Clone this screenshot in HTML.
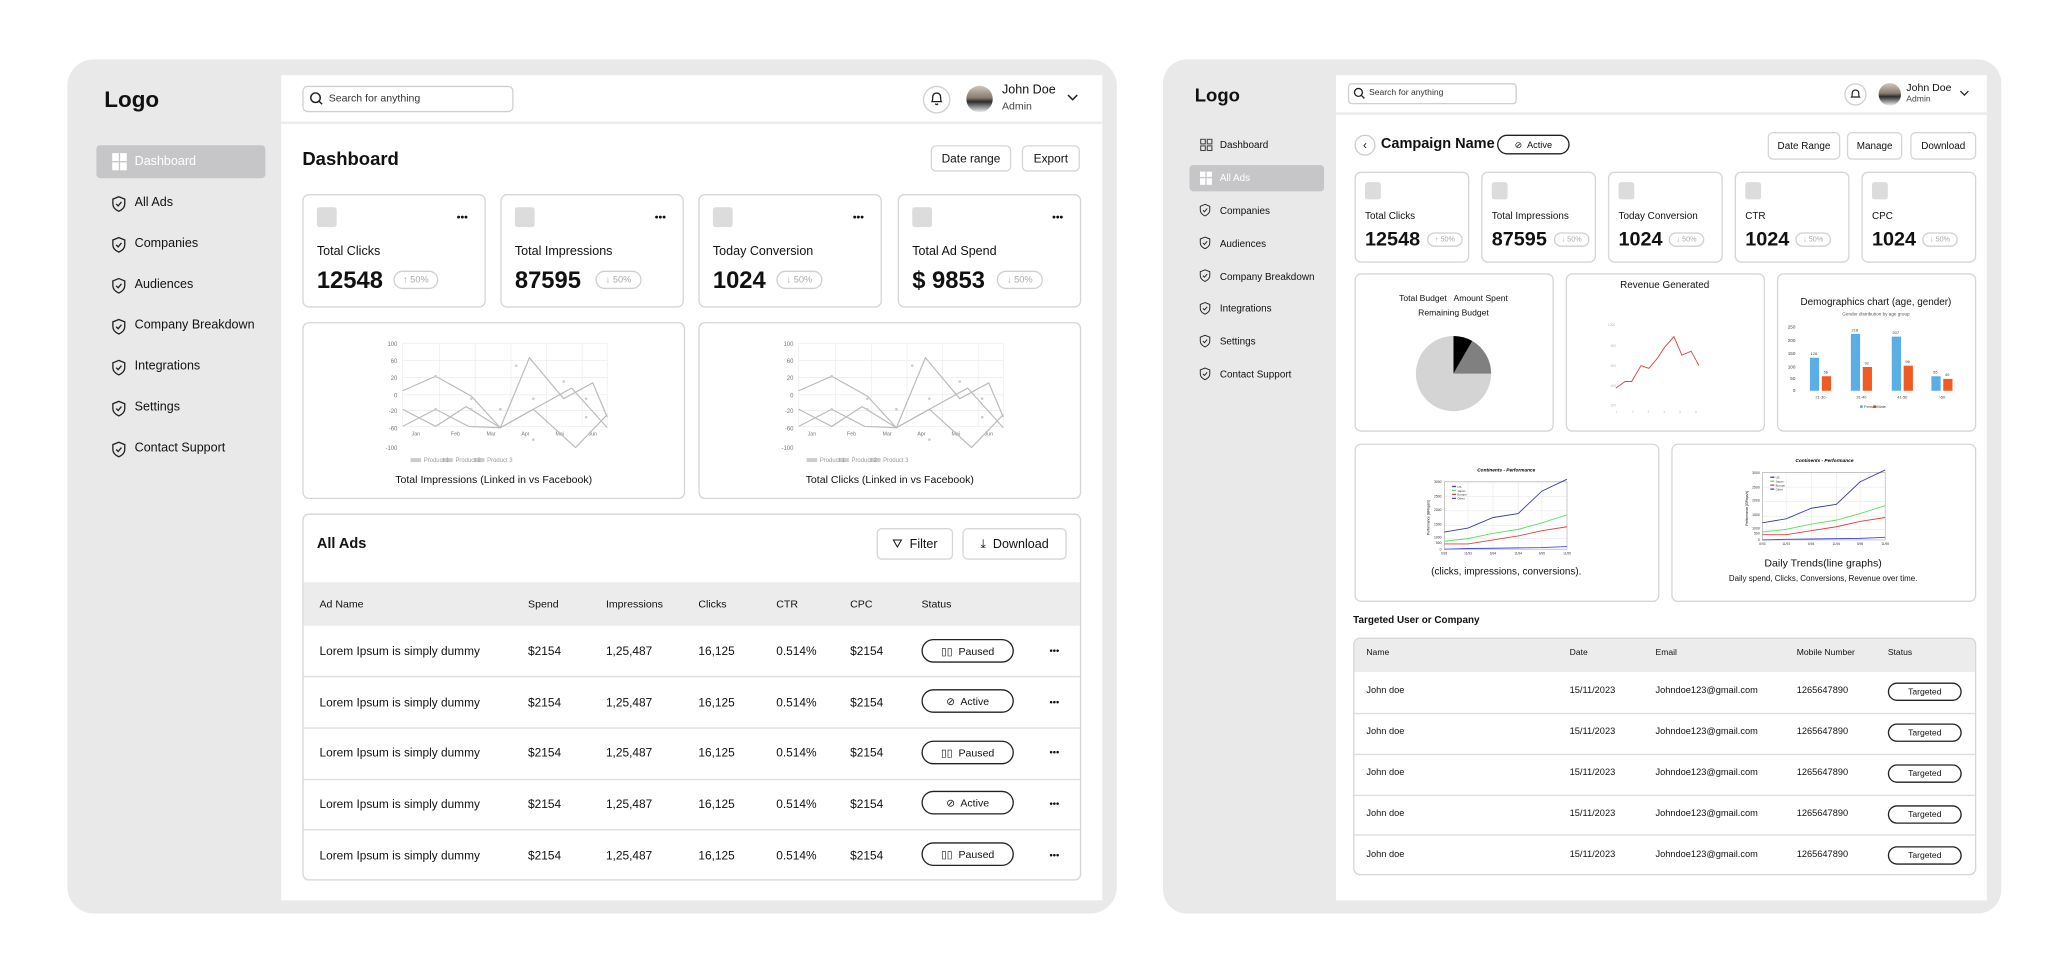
<!DOCTYPE html>
<html><head><meta charset="utf-8">
<style>
*{margin:0;padding:0;box-sizing:border-box}
html,body{width:2070px;height:975px;background:#fff;overflow:hidden;font-family:"Liberation Sans",Arial,sans-serif;color:#111}
#s{position:absolute;left:0;top:0;width:1568px;height:739px;transform:scale(1.32015);transform-origin:0 0}
.a{position:absolute}
.card{position:absolute;background:#fff;border:1px solid #d6d6d6;border-radius:5px}
.btn{position:absolute;background:#fff;border:1px solid #d6d6d6;border-radius:4px;font-size:9px;display:flex;align-items:center;justify-content:center;font-weight:500}
.t{position:absolute;white-space:nowrap;line-height:1}
.pill{position:absolute;border:1px solid #d0d0d0;border-radius:8px;color:#aaa;font-size:7px;display:flex;align-items:center;justify-content:center}
.ic{position:absolute;background:#dcdcdc;border-radius:2px}
.sp{position:absolute;border:1px solid #222;border-radius:10px;font-size:8px;display:flex;align-items:center;justify-content:center;background:#fff}
</style></head><body><div id="s">

<!-- LEFT PANEL -->
<div class="a" style="left:51px;top:45px;width:795px;height:647px;background:#e9e9ea;border-radius:20px"></div>
<div class="a" style="left:213px;top:57px;width:622px;height:625px;background:#fff"></div>
<div class="a" style="left:213px;top:92px;width:622px;height:2px;background:#ececec"></div>
<div class="t" style="left:79px;top:67px;font-size:17px;font-weight:bold">Logo</div>
<div class="a" style="left:229px;top:65px;width:160px;height:20px;border:1px solid #d0d0d0;border-radius:4px"></div>
<svg class="a" style="left:234px;top:69px" width="12" height="12"><circle cx="5" cy="5" r="3.6" fill="none" stroke="#222" stroke-width="1.1"/><line x1="7.6" y1="7.6" x2="10" y2="10" stroke="#222" stroke-width="1.1"/></svg>
<div class="t" style="left:249px;top:71px;font-size:8px;color:#333">Search for anything</div>
<div class="a" style="left:699px;top:65px;width:21px;height:21px;border:1px solid #d0d0d0;border-radius:50%"></div>
<svg class="a" style="left:704px;top:69px" width="11" height="12"><path d="M2 8 Q2.5 7 2.5 5 Q2.5 1.5 5.5 1.5 Q8.5 1.5 8.5 5 Q8.5 7 9 8 Z" fill="none" stroke="#222" stroke-width="1"/><path d="M4.5 9.5 Q5.5 11 6.5 9.5" fill="none" stroke="#222"/></svg>
<div class="a" style="left:732px;top:65px;width:20px;height:20px;border-radius:50%;background:linear-gradient(#cfc7c0 0,#8a7c70 45%,#2c2c2c 60%,#efefef 100%)"></div>
<div class="t" style="left:759px;top:64px;font-size:9.5px;font-weight:500">John Doe</div>
<div class="t" style="left:759px;top:77px;font-size:8px;color:#444">Admin</div>
<svg class="a" style="left:808px;top:71px" width="9" height="6"><path d="M1 1 L4.5 4.5 L8 1" fill="none" stroke="#222" stroke-width="1.1"/></svg>

<div class="a" style="left:73px;top:110px;width:128px;height:25px;background:#c6c6c8;border-radius:3px"></div>
<div class="a" style="left:85px;top:116px;width:5px;height:6px;background:#fff"></div><div class="a" style="left:91px;top:116px;width:5px;height:6px;background:#fff"></div><div class="a" style="left:85px;top:123px;width:5px;height:6px;background:#fff"></div><div class="a" style="left:91px;top:123px;width:5px;height:6px;background:#fff"></div>
<div class="t" style="left:102px;top:118px;font-size:9.5px;color:#fff">Dashboard</div>

<svg class="a" style="left:84px;top:148px" width="12" height="250">
<defs><path id="sh" d="M6 1 L10.5 2.8 V6.5 Q10.5 10 6 12 Q1.5 10 1.5 6.5 V2.8 Z M4 6.5 L5.5 8 L8 5"/></defs>
<g fill="none" stroke="#222" stroke-width="1">
<use href="#sh" y="0"/><use href="#sh" y="31"/><use href="#sh" y="62"/><use href="#sh" y="93"/><use href="#sh" y="124"/><use href="#sh" y="155"/><use href="#sh" y="186"/></g></svg>
<div style="font-size:9.5px">
<div class="t" style="left:102px;top:149px">All Ads</div>
<div class="t" style="left:102px;top:180px">Companies</div>
<div class="t" style="left:102px;top:211px">Audiences</div>
<div class="t" style="left:102px;top:242px">Company Breakdown</div>
<div class="t" style="left:102px;top:273px">Integrations</div>
<div class="t" style="left:102px;top:304px">Settings</div>
<div class="t" style="left:102px;top:335px">Contact Support</div>
</div>

<div class="t" style="left:229px;top:113px;font-size:14px;font-weight:bold">Dashboard</div>
<div class="btn" style="left:705px;top:110px;width:61px;height:20px">Date range</div>
<div class="btn" style="left:774px;top:110px;width:44px;height:20px">Export</div>

<div class="card" style="left:229px;top:147px;width:139px;height:86px"></div>
<div class="card" style="left:379px;top:147px;width:139px;height:86px"></div>
<div class="card" style="left:529px;top:147px;width:139px;height:86px"></div>
<div class="card" style="left:680px;top:147px;width:139px;height:86px"></div>
<div class="ic" style="left:240px;top:157px;width:15px;height:15px"></div>
<div class="ic" style="left:390px;top:157px;width:15px;height:15px"></div>
<div class="ic" style="left:540px;top:157px;width:15px;height:15px"></div>
<div class="ic" style="left:691px;top:157px;width:15px;height:15px"></div>
<div style="font-size:8px;font-weight:bold">
<div class="t" style="left:346px;top:161px">•••</div>
<div class="t" style="left:496px;top:161px">•••</div>
<div class="t" style="left:646px;top:161px">•••</div>
<div class="t" style="left:797px;top:161px">•••</div></div>
<div style="font-size:9.5px">
<div class="t" style="left:240px;top:186px">Total Clicks</div>
<div class="t" style="left:390px;top:186px">Total Impressions</div>
<div class="t" style="left:540px;top:186px">Today Conversion</div>
<div class="t" style="left:691px;top:186px">Total Ad Spend</div></div>
<div style="font-size:18px;font-weight:bold">
<div class="t" style="left:240px;top:203px">12548</div>
<div class="t" style="left:390px;top:203px">87595</div>
<div class="t" style="left:540px;top:203px">1024</div>
<div class="t" style="left:691px;top:203px">$ 9853</div></div>
<div class="pill" style="left:298px;top:205px;width:34px;height:14px">↑ 50%</div>
<div class="pill" style="left:451px;top:205px;width:35px;height:14px">↓ 50%</div>
<div class="pill" style="left:588px;top:205px;width:35px;height:14px">↓ 50%</div>
<div class="pill" style="left:755px;top:205px;width:35px;height:14px">↓ 50%</div>

<div class="card" style="left:229px;top:244px;width:290px;height:134px"></div>
<div class="card" style="left:529px;top:244px;width:290px;height:134px"></div>
<svg class="a" style="left:229px;top:244px" width="290" height="134"><g id="lc">
<g stroke="#eee" stroke-width="0.6"><line x1="76" y1="16" x2="231" y2="16"/><line x1="76" y1="29" x2="231" y2="29"/><line x1="76" y1="42" x2="231" y2="42"/><line x1="76" y1="55" x2="231" y2="55"/><line x1="76" y1="67" x2="231" y2="67"/><line x1="76" y1="79" x2="231" y2="79"/><line x1="76" y1="16" x2="76" y2="79"/><line x1="104" y1="16" x2="104" y2="79"/><line x1="131" y1="16" x2="131" y2="79"/><line x1="158" y1="16" x2="158" y2="79"/><line x1="185" y1="16" x2="185" y2="79"/><line x1="212" y1="16" x2="212" y2="79"/><line x1="231" y1="16" x2="231" y2="79"/></g>
<g font-size="4.5" fill="#777" text-anchor="end"><text x="72" y="18">100</text><text x="72" y="31">60</text><text x="72" y="44">20</text><text x="72" y="57">0</text><text x="72" y="69">-20</text><text x="72" y="82">-60</text><text x="72" y="97">-100</text></g>
<g font-size="4" fill="#777" text-anchor="middle"><text x="86" y="86">Jan</text><text x="116" y="86">Feb</text><text x="143" y="86">Mar</text><text x="169" y="86">Apr</text><text x="195" y="86">Mai</text><text x="220" y="86">Jun</text></g>
<g fill="none" stroke="#bbb" stroke-width="0.9"><polyline points="76,52 101,41 128,56 150,80 175,66 207,95 231,70"/><polyline points="76,66 101,79 124,64 150,80 175,66 204,50 231,80"/><polyline points="76,79 101,66 126,79 150,80 172,27 198,58 220,46 231,72"/></g>
<g fill="#ccc"><circle cx="101" cy="41" r="1"/><circle cx="128" cy="58" r="1"/><circle cx="162" cy="33" r="1"/><circle cx="198" cy="45" r="1"/><circle cx="175" cy="58" r="1"/><circle cx="101" cy="66" r="1"/><circle cx="128" cy="66" r="1"/><circle cx="150" cy="66" r="1"/><circle cx="175" cy="89" r="1"/><circle cx="215" cy="58" r="1"/><circle cx="215" cy="72" r="1"/></g>
<g fill="#ccc"><rect x="82" y="103" width="8" height="3"/><rect x="106" y="103" width="8" height="3"/><rect x="130" y="103" width="8" height="3"/></g>
<g font-size="4.5" fill="#999"><text x="92" y="106">Product 1</text><text x="116" y="106">Product 2</text><text x="140" y="106">Product 3</text></g>
</g>
<text x="145" y="122" font-size="8" fill="#111" text-anchor="middle">Total Impressions (Linked in vs Facebook)</text></svg>
<svg class="a" style="left:529px;top:244px" width="290" height="134"><use href="#lc"/>
<text x="145" y="122" font-size="8" fill="#111" text-anchor="middle">Total Clicks (Linked in vs Facebook)</text></svg>

<div class="card" style="left:229px;top:389px;width:590px;height:278px;overflow:hidden">
<div class="a" style="left:0;top:51px;width:590px;height:33px;background:#ececec"></div>
<div class="a" style="left:0;top:122px;width:590px;height:1px;background:#ddd"></div>
<div class="a" style="left:0;top:161px;width:590px;height:1px;background:#ddd"></div>
<div class="a" style="left:0;top:200px;width:590px;height:1px;background:#ddd"></div>
<div class="a" style="left:0;top:238px;width:590px;height:1px;background:#ddd"></div>
</div>
<div class="t" style="left:240px;top:407px;font-size:11px;font-weight:bold">All Ads</div>
<div class="btn" style="left:664px;top:400px;width:58px;height:24px;font-size:9.5px">⛛&nbsp; Filter</div>
<div class="btn" style="left:729px;top:400px;width:79px;height:24px;font-size:9.5px">⤓&nbsp; Download</div>
<div style="font-size:8px">
<div class="t" style="left:242px;top:454px">Ad Name</div><div class="t" style="left:400px;top:454px">Spend</div><div class="t" style="left:459px;top:454px">Impressions</div><div class="t" style="left:529px;top:454px">Clicks</div><div class="t" style="left:588px;top:454px">CTR</div><div class="t" style="left:644px;top:454px">CPC</div><div class="t" style="left:698px;top:454px">Status</div>
</div>
<div style="font-size:9px">
<div class="t" style="left:242px;top:489px">Lorem Ipsum is simply dummy</div><div class="t" style="left:400px;top:489px">$2154</div><div class="t" style="left:459px;top:489px">1,25,487</div><div class="t" style="left:529px;top:489px">16,125</div><div class="t" style="left:588px;top:489px">0.514%</div><div class="t" style="left:644px;top:489px">$2154</div>
<div class="t" style="left:242px;top:528px">Lorem Ipsum is simply dummy</div><div class="t" style="left:400px;top:528px">$2154</div><div class="t" style="left:459px;top:528px">1,25,487</div><div class="t" style="left:529px;top:528px">16,125</div><div class="t" style="left:588px;top:528px">0.514%</div><div class="t" style="left:644px;top:528px">$2154</div>
<div class="t" style="left:242px;top:566px">Lorem Ipsum is simply dummy</div><div class="t" style="left:400px;top:566px">$2154</div><div class="t" style="left:459px;top:566px">1,25,487</div><div class="t" style="left:529px;top:566px">16,125</div><div class="t" style="left:588px;top:566px">0.514%</div><div class="t" style="left:644px;top:566px">$2154</div>
<div class="t" style="left:242px;top:605px">Lorem Ipsum is simply dummy</div><div class="t" style="left:400px;top:605px">$2154</div><div class="t" style="left:459px;top:605px">1,25,487</div><div class="t" style="left:529px;top:605px">16,125</div><div class="t" style="left:588px;top:605px">0.514%</div><div class="t" style="left:644px;top:605px">$2154</div>
<div class="t" style="left:242px;top:644px">Lorem Ipsum is simply dummy</div><div class="t" style="left:400px;top:644px">$2154</div><div class="t" style="left:459px;top:644px">1,25,487</div><div class="t" style="left:529px;top:644px">16,125</div><div class="t" style="left:588px;top:644px">0.514%</div><div class="t" style="left:644px;top:644px">$2154</div>
</div>
<div class="sp" style="left:698px;top:484px;width:70px;height:18px">▯▯&nbsp; Paused</div>
<div class="sp" style="left:698px;top:522px;width:70px;height:18px">⊘&nbsp; Active</div>
<div class="sp" style="left:698px;top:561px;width:70px;height:18px">▯▯&nbsp; Paused</div>
<div class="sp" style="left:698px;top:599px;width:70px;height:18px">⊘&nbsp; Active</div>
<div class="sp" style="left:698px;top:638px;width:70px;height:18px">▯▯&nbsp; Paused</div>
<div style="font-size:7px;font-weight:bold">
<div class="t" style="left:795px;top:490px">•••</div><div class="t" style="left:795px;top:529px">•••</div><div class="t" style="left:795px;top:567px">•••</div><div class="t" style="left:795px;top:606px">•••</div><div class="t" style="left:795px;top:645px">•••</div>
</div>

<!-- RIGHT PANEL -->
<div class="a" style="left:881px;top:45px;width:635px;height:647px;background:#e9e9ea;border-radius:18px"></div>
<div class="a" style="left:1012px;top:57px;width:493px;height:625px;background:#fff"></div>
<div class="a" style="left:1012px;top:85px;width:493px;height:2px;background:#ececec"></div>
<div class="t" style="left:905px;top:65px;font-size:14px;font-weight:bold">Logo</div>
<div class="a" style="left:1021px;top:63px;width:128px;height:16px;border:1px solid #d0d0d0;border-radius:3px"></div>
<svg class="a" style="left:1025px;top:66px" width="10" height="10"><circle cx="4" cy="4" r="3" fill="none" stroke="#222"/><line x1="6.2" y1="6.2" x2="8.5" y2="8.5" stroke="#222"/></svg>
<div class="t" style="left:1037px;top:68px;font-size:6.5px;color:#333">Search for anything</div>
<div class="a" style="left:1397px;top:63px;width:17px;height:17px;border:1px solid #d0d0d0;border-radius:50%"></div>
<svg class="a" style="left:1401px;top:67px" width="9" height="10"><path d="M1.5 6.5 Q2 6 2 4 Q2 1.2 4.5 1.2 Q7 1.2 7 4 Q7 6 7.5 6.5 Z" fill="none" stroke="#222" stroke-width="0.9"/></svg>
<div class="a" style="left:1423px;top:63px;width:17px;height:17px;border-radius:50%;background:linear-gradient(#cfc7c0 0,#8a7c70 45%,#2c2c2c 60%,#efefef 100%)"></div>
<div class="t" style="left:1444px;top:63px;font-size:8px;font-weight:500">John Doe</div>
<div class="t" style="left:1444px;top:73px;font-size:6.5px;color:#444">Admin</div>
<svg class="a" style="left:1484px;top:68px" width="8" height="5"><path d="M1 1 L4 4 L7 1" fill="none" stroke="#222"/></svg>

<svg class="a" style="left:909px;top:105px" width="10" height="10"><g fill="none" stroke="#444" stroke-width="0.8"><rect x="0.5" y="0.5" width="3.5" height="3.5"/><rect x="5.5" y="0.5" width="3.5" height="3.5"/><rect x="0.5" y="5.5" width="3.5" height="3.5"/><rect x="5.5" y="5.5" width="3.5" height="3.5"/></g></svg>
<div class="t" style="left:924px;top:106px;font-size:7.5px">Dashboard</div>
<div class="a" style="left:901px;top:125px;width:102px;height:20px;background:#c6c6c8;border-radius:3px"></div>
<div class="a" style="left:909px;top:130px;width:4px;height:4px;background:#fff"></div><div class="a" style="left:914px;top:130px;width:4px;height:4px;background:#fff"></div><div class="a" style="left:909px;top:135px;width:4px;height:5px;background:#fff"></div><div class="a" style="left:914px;top:135px;width:4px;height:5px;background:#fff"></div>
<div class="t" style="left:924px;top:131px;font-size:7.5px;color:#fff">All Ads</div>
<svg class="a" style="left:908px;top:154px" width="10" height="140"><g fill="none" stroke="#222" stroke-width="0.9" transform="scale(0.8)"><use href="#sh" y="0"/><use href="#sh" y="31"/><use href="#sh" y="62"/><use href="#sh" y="93"/><use href="#sh" y="124"/><use href="#sh" y="155"/></g></svg>
<div style="font-size:7.5px">
<div class="t" style="left:924px;top:156px">Companies</div><div class="t" style="left:924px;top:181px">Audiences</div><div class="t" style="left:924px;top:206px">Company Breakdown</div><div class="t" style="left:924px;top:230px">Integrations</div><div class="t" style="left:924px;top:255px">Settings</div><div class="t" style="left:924px;top:280px">Contact Support</div>
</div>

<div class="a" style="left:1026px;top:102px;width:16px;height:16px;border:1px solid #ccc;border-radius:50%;font-size:9px;text-align:center;line-height:14px">‹</div>
<div class="t" style="left:1046px;top:104px;font-size:11px;font-weight:bold">Campaign Name</div>
<div class="sp" style="left:1134px;top:102px;width:55px;height:15px;font-size:7px">⊘&nbsp; Active</div>
<div class="btn" style="left:1339px;top:100px;width:55px;height:21px;font-size:7.5px">Date Range</div>
<div class="btn" style="left:1399px;top:100px;width:42px;height:21px;font-size:7.5px">Manage</div>
<div class="btn" style="left:1447px;top:100px;width:50px;height:21px;font-size:7.5px">Download</div>

<div class="card" style="left:1026px;top:130px;width:87px;height:69px"></div>
<div class="card" style="left:1122px;top:130px;width:87px;height:69px"></div>
<div class="card" style="left:1218px;top:130px;width:87px;height:69px"></div>
<div class="card" style="left:1314px;top:130px;width:87px;height:69px"></div>
<div class="card" style="left:1410px;top:130px;width:87px;height:69px"></div>
<div class="ic" style="left:1034px;top:138px;width:12px;height:13px"></div>
<div class="ic" style="left:1130px;top:138px;width:12px;height:13px"></div>
<div class="ic" style="left:1226px;top:138px;width:12px;height:13px"></div>
<div class="ic" style="left:1322px;top:138px;width:12px;height:13px"></div>
<div class="ic" style="left:1418px;top:138px;width:12px;height:13px"></div>
<div style="font-size:7.5px">
<div class="t" style="left:1034px;top:160px">Total Clicks</div>
<div class="t" style="left:1130px;top:160px">Total Impressions</div>
<div class="t" style="left:1226px;top:160px">Today Conversion</div>
<div class="t" style="left:1322px;top:160px">CTR</div>
<div class="t" style="left:1418px;top:160px">CPC</div></div>
<div style="font-size:15px;font-weight:bold">
<div class="t" style="left:1034px;top:174px">12548</div>
<div class="t" style="left:1130px;top:174px">87595</div>
<div class="t" style="left:1226px;top:174px">1024</div>
<div class="t" style="left:1322px;top:174px">1024</div>
<div class="t" style="left:1418px;top:174px">1024</div></div>
<div class="pill" style="left:1081px;top:176px;width:27px;height:11px;font-size:5.5px">↑ 50%</div>
<div class="pill" style="left:1177px;top:176px;width:27px;height:11px;font-size:5.5px">↓ 50%</div>
<div class="pill" style="left:1264px;top:176px;width:27px;height:11px;font-size:5.5px">↓ 50%</div>
<div class="pill" style="left:1360px;top:176px;width:27px;height:11px;font-size:5.5px">↓ 50%</div>
<div class="pill" style="left:1456px;top:176px;width:27px;height:11px;font-size:5.5px">↓ 50%</div>

<!-- charts row 1 -->
<div class="card" style="left:1026px;top:207px;width:151px;height:120px"></div>
<div class="card" style="left:1186px;top:207px;width:151px;height:120px"></div>
<div class="card" style="left:1346px;top:207px;width:151px;height:120px"></div>
<div class="t" style="left:1101px;top:224px;font-size:6.5px;transform:translateX(-50%)">Total Budget &nbsp; Amount Spent</div>
<div class="t" style="left:1101px;top:235px;font-size:6.5px;transform:translateX(-50%)">Remaining Budget</div>
<svg class="a" style="left:1071px;top:253px" width="60" height="60">
<circle cx="30" cy="30" r="28.5" fill="#d4d4d4"/>
<path d="M30 30 L30 1.5 A28.5 28.5 0 0 1 44.25 5.3 Z" fill="#000"/>
<path d="M30 30 L44.25 5.3 A28.5 28.5 0 0 1 58.5 30 Z" fill="#808080"/>
</svg>
<div class="t" style="left:1261px;top:212px;font-size:7.5px;transform:translateX(-50%)">Revenue Generated</div>
<svg class="a" style="left:1186px;top:207px" width="151" height="120">
<g font-size="2.5" fill="#bbb"><text x="32" y="40">1000</text><text x="34" y="56">800</text><text x="34" y="71">600</text><text x="34" y="86">400</text><text x="34" y="101">200</text></g>
<polyline fill="none" stroke="#e0473c" stroke-width="0.7" points="38,87 45,82 50,82 57,70 63,72 69,65 75,56 82,48 88,62 95,59 101,70"/>
<g font-size="2.5" fill="#bbb"><text x="38" y="106">1</text><text x="50" y="106">2</text><text x="62" y="106">3</text><text x="74" y="106">4</text><text x="86" y="106">5</text><text x="98" y="106">6</text></g>
</svg>
<div class="t" style="left:1421px;top:225px;font-size:7.5px;transform:translateX(-50%)">Demographics chart (age, gender)</div>
<div class="t" style="left:1421px;top:237px;font-size:3.5px;color:#555;transform:translateX(-50%)">Gender distribution by age group</div>
<svg class="a" style="left:1346px;top:207px" width="151" height="120">
<g font-size="3.5" fill="#444" text-anchor="end"><text x="14" y="42">250</text><text x="14" y="52">200</text><text x="14" y="62">150</text><text x="14" y="72">100</text><text x="14" y="81">50</text><text x="14" y="90">0</text></g>
<g fill="#5aaee6"><rect x="25" y="64" width="7" height="25"/><rect x="56" y="46" width="7" height="43"/><rect x="87" y="48" width="7" height="41"/><rect x="117" y="78" width="7" height="11"/></g>
<g fill="#f05a24"><rect x="34" y="78" width="7" height="11"/><rect x="65" y="71" width="7" height="18"/><rect x="96" y="70" width="7" height="19"/><rect x="126" y="80" width="7" height="9"/></g>
<g font-size="3" fill="#444" text-anchor="middle"><text x="28" y="62">128</text><text x="59" y="44">218</text><text x="90" y="46">207</text><text x="120" y="76">55</text><text x="37" y="76">56</text><text x="68" y="69">92</text><text x="99" y="68">96</text><text x="129" y="78">49</text>
<text x="33" y="95">21-30</text><text x="64" y="95">31-40</text><text x="95" y="95">41-50</text><text x="125" y="95">&gt;50</text></g>
<rect x="63" y="100" width="2" height="2" fill="#5aaee6"/><rect x="73" y="100" width="2" height="2" fill="#f05a24"/>
<g font-size="3" fill="#444"><text x="66" y="102">Female</text><text x="76" y="102">Male</text></g>
</svg>

<!-- charts row 2 -->
<div class="card" style="left:1026px;top:336px;width:231px;height:120px"></div>
<div class="card" style="left:1266px;top:336px;width:231px;height:120px"></div>
<svg class="a" style="left:1070px;top:352px" width="140" height="70"><g id="cp">
<text x="71" y="5" font-size="3.6" font-weight="bold" font-style="italic" text-anchor="middle">Continents - Performance</text>
<g stroke="#e4e4e4" stroke-width="0.4"><line x1="24" y1="13" x2="117" y2="13"/><line x1="24" y1="24" x2="117" y2="24"/><line x1="24" y1="35" x2="117" y2="35"/><line x1="24" y1="46" x2="117" y2="46"/><line x1="24" y1="56" x2="117" y2="56"/><line x1="42" y1="13" x2="42" y2="64"/><line x1="61" y1="13" x2="61" y2="64"/><line x1="80" y1="13" x2="80" y2="64"/><line x1="98" y1="13" x2="98" y2="64"/></g>
<rect x="24" y="13" width="93" height="51" fill="none" stroke="#999" stroke-width="0.4"/>
<g font-size="2.6" fill="#333" text-anchor="end"><text x="22" y="14">3000</text><text x="22" y="25">2500</text><text x="22" y="35">2000</text><text x="22" y="46">1500</text><text x="22" y="56">1000</text><text x="22" y="60">500</text><text x="22" y="65">0</text></g>
<text x="13" y="40" font-size="2.5" transform="rotate(-90 13 40)" text-anchor="middle">Performance [GFlops/s]</text>
<g fill="none" stroke-width="0.7"><polyline stroke="#3b3bb0" points="24,51 42,48 61,40 80,37 98,20 117,11"/><polyline stroke="#5ee05e" points="24,58 42,56 61,52 80,49 98,44 117,38"/><polyline stroke="#e04040" points="24,60 42,60 61,57 80,54 98,50 117,47"/><polyline stroke="#4a4ae0" points="24,64 42,63.5 61,63.3 80,63 98,62.8 117,62"/></g>
<g font-size="2.2" fill="#333"><rect x="30" y="16" width="3" height="1" fill="#3b3bb0"/><text x="34" y="17.5">US</text><rect x="30" y="19" width="3" height="1" fill="#5ee05e"/><text x="34" y="20.5">Japan</text><rect x="30" y="22" width="3" height="1" fill="#e04040"/><text x="34" y="23.5">Europe</text><rect x="30" y="25" width="3" height="1" fill="#4a4ae0"/><text x="34" y="26.5">Other</text></g>
<g font-size="2.4" fill="#333" text-anchor="middle"><text x="24" y="68">6/93</text><text x="42" y="68">11/93</text><text x="61" y="68">6/94</text><text x="80" y="68">11/94</text><text x="98" y="68">6/95</text><text x="117" y="68">11/95</text></g>
</g></svg>
<div class="t" style="left:1141px;top:429px;font-size:7.5px;transform:translateX(-50%)">(clicks, impressions, conversions).</div>
<svg class="a" style="left:1311px;top:345px" width="140" height="70"><use href="#cp"/></svg>
<div class="t" style="left:1381px;top:423px;font-size:8px;transform:translateX(-50%)">Daily Trends(line graphs)</div>
<div class="t" style="left:1381px;top:436px;font-size:6px;transform:translateX(-50%)">Daily spend, Clicks, Conversions, Revenue over time.</div>

<div class="t" style="left:1025px;top:466px;font-size:7.5px;font-weight:bold">Targeted User or Company</div>
<div class="card" style="left:1025px;top:483px;width:472px;height:180px;overflow:hidden">
<div class="a" style="left:0;top:0;width:472px;height:25px;background:#ececec"></div>
<div class="a" style="left:0;top:56px;width:472px;height:1px;background:#ddd"></div>
<div class="a" style="left:0;top:87px;width:472px;height:1px;background:#ddd"></div>
<div class="a" style="left:0;top:118px;width:472px;height:1px;background:#ddd"></div>
<div class="a" style="left:0;top:148px;width:472px;height:1px;background:#ddd"></div>
</div>
<div style="font-size:6.5px">
<div class="t" style="left:1035px;top:492px">Name</div><div class="t" style="left:1189px;top:492px">Date</div><div class="t" style="left:1254px;top:492px">Email</div><div class="t" style="left:1361px;top:492px">Mobile Number</div><div class="t" style="left:1430px;top:492px">Status</div>
</div>
<div style="font-size:7px">
<div class="t" style="left:1035px;top:520px">John doe</div><div class="t" style="left:1189px;top:520px">15/11/2023</div><div class="t" style="left:1254px;top:520px">Johndoe123@gmail.com</div><div class="t" style="left:1361px;top:520px">1265647890</div>
<div class="t" style="left:1035px;top:551px">John doe</div><div class="t" style="left:1189px;top:551px">15/11/2023</div><div class="t" style="left:1254px;top:551px">Johndoe123@gmail.com</div><div class="t" style="left:1361px;top:551px">1265647890</div>
<div class="t" style="left:1035px;top:582px">John doe</div><div class="t" style="left:1189px;top:582px">15/11/2023</div><div class="t" style="left:1254px;top:582px">Johndoe123@gmail.com</div><div class="t" style="left:1361px;top:582px">1265647890</div>
<div class="t" style="left:1035px;top:613px">John doe</div><div class="t" style="left:1189px;top:613px">15/11/2023</div><div class="t" style="left:1254px;top:613px">Johndoe123@gmail.com</div><div class="t" style="left:1361px;top:613px">1265647890</div>
<div class="t" style="left:1035px;top:644px">John doe</div><div class="t" style="left:1189px;top:644px">15/11/2023</div><div class="t" style="left:1254px;top:644px">Johndoe123@gmail.com</div><div class="t" style="left:1361px;top:644px">1265647890</div>
</div>
<div class="sp" style="left:1430px;top:517px;width:56px;height:14px;font-size:6.5px">Targeted</div>
<div class="sp" style="left:1430px;top:548px;width:56px;height:14px;font-size:6.5px">Targeted</div>
<div class="sp" style="left:1430px;top:579px;width:56px;height:14px;font-size:6.5px">Targeted</div>
<div class="sp" style="left:1430px;top:610px;width:56px;height:14px;font-size:6.5px">Targeted</div>
<div class="sp" style="left:1430px;top:641px;width:56px;height:14px;font-size:6.5px">Targeted</div>

</div></body></html>
